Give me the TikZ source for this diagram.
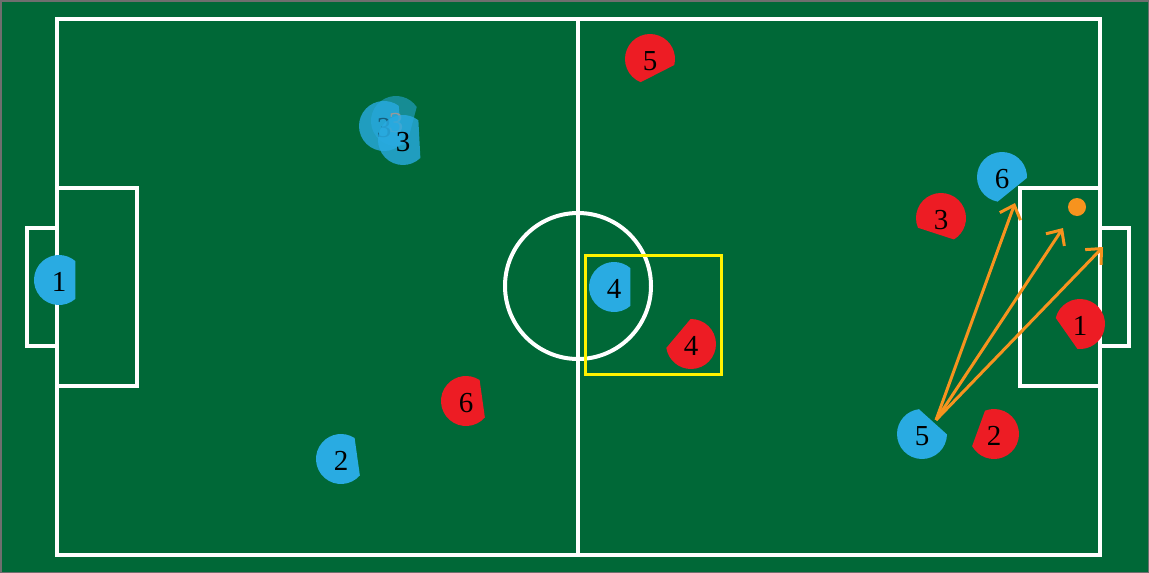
\documentclass[tikz,border=0pt]{standalone}
\usepackage{fontspec}
\setmainfont{Liberation Serif}
\usepackage{tikz}
\usetikzlibrary{positioning,arrows.meta,calc}
\definecolor{pitchGreen}{RGB}{0,104,55}
\definecolor{botBlue}{RGB}{41,171,226}
\definecolor{botRed}{RGB}{237,28,36}
\definecolor{kickOrange}{RGB}{247,147,30}
\definecolor{frameGray}{RGB}{110,110,110}

% robot: name, centre, heading (clockwise on screen), fill options, number
\newcommand{\robot}[5]{%
  \fill[#4] ($(#2)+(#3+49:25)$) arc[start angle=#3+49, end angle=#3+311, radius=25] -- cycle;
  \node[robotnum] (#1) at (#2) {#5};
}

\begin{document}
\begin{tikzpicture}[x=1pt, y=-1pt,
    robotnum/.style={inner sep=0pt, yshift=-2pt, font=\fontsize{29}{30}\selectfont},
    pitchline/.style={white, line width=4pt},
    kickline/.style={kickOrange, line width=3pt, -{Straight Barb[length=12pt,width=22pt]}}]
  \useasboundingbox (0,0) rectangle (1149,573);
  \fill[pitchGreen] (0,0) rectangle (1149,573);
  \draw[frameGray, line width=1.5pt] (0.75,0.75) rectangle (1148.25,572.25);

  % field markings
  \draw[pitchline] (57,19) rectangle (1100,555);
  \draw[pitchline] (578,19) -- (578,555);
  \draw[pitchline] (578,286) circle[radius=73];
  \draw[pitchline] (57,188) rectangle (137,386);
  \draw[pitchline] (57,228) rectangle (27,346);
  \draw[pitchline] (1100,188) rectangle (1020,386);
  \draw[pitchline] (1100,228) rectangle (1129,346);

  \draw[yellow, line width=3pt] (585,255) rectangle (721,374);

  % blue team
  \robot{b1}{59,280}{0}{botBlue}{1}
  \robot{b2}{341,459}{-8}{botBlue}{2}
  \robot{b3a}{384,126}{-5}{botBlue, opacity=.8}{3}
  \robot{b3b}{396,121}{15}{botBlue, opacity=.55}{\textcolor{black!40}{3}}
  \robot{b3c}{403,140}{-3}{botBlue, opacity=.8}{3}
  \robot{b4}{614,287}{0}{botBlue}{4}
  \robot{b5}{922,434}{-48}{botBlue}{5}
  \robot{b6}{1002,177}{51}{botBlue}{6}

  % red team
  \robot{r1}{1080,324}{145}{botRed}{1}
  \robot{r2}{994,434}{200}{botRed}{2}
  \robot{r3}{941,218}{108}{botRed}{3}
  \robot{r4}{691,344}{220}{botRed}{4}
  \robot{r5}{650,59}{63}{botRed}{5}
  \robot{r6}{466,401}{-8}{botRed}{6}

  \fill[kickOrange] (1077,207) circle[radius=9];

  % kick options from b5
  \coordinate (kick) at (936,420);
  \coordinate (pass6) at (1015,203);
  \coordinate (shotA) at (1063,228);
  \coordinate (shotB) at (1103,247);
  \draw[kickline] (kick) -- (pass6);
  \draw[kickline] (kick) -- (shotA);
  \draw[kickline] (kick) -- (shotB);
\end{tikzpicture}
\end{document}
